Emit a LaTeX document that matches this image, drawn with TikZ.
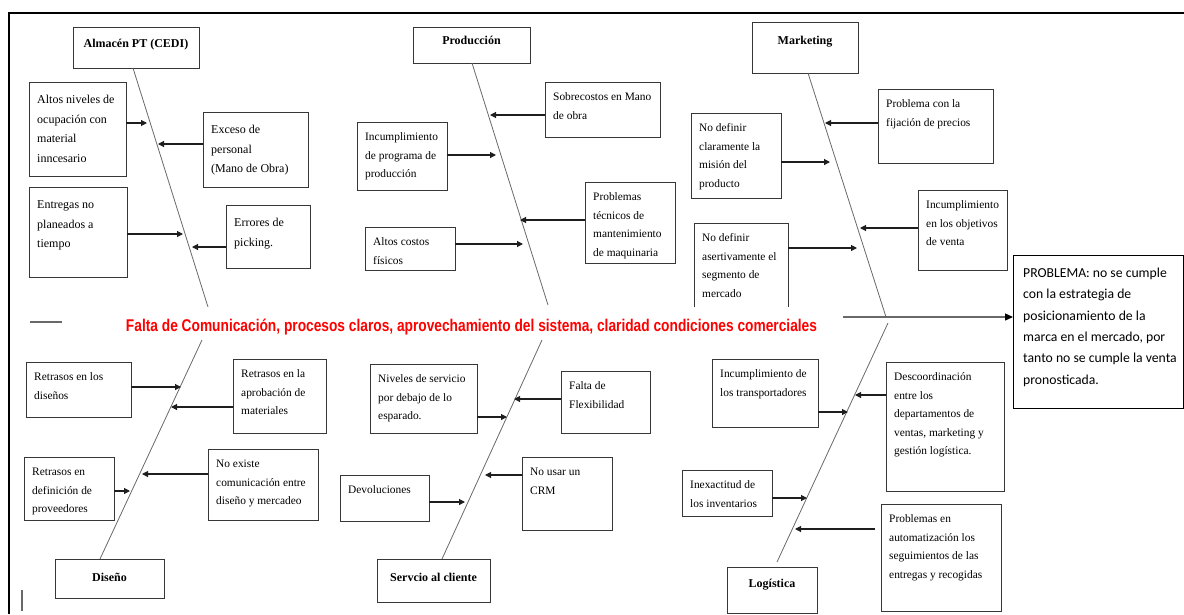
\documentclass[tikz,border=0pt]{standalone}
\usepackage{fontspec}
\setmainfont{Liberation Serif}
\newfontfamily\problemfont{Carlito}
\newfontfamily\headfont{Liberation Sans}
\usepackage{graphicx}
\usetikzlibrary{arrows.meta,calc}

\definecolor{boxline}{RGB}{55,55,55}
\definecolor{boneline}{RGB}{105,105,105}
\definecolor{arrowline}{RGB}{30,30,30}
\definecolor{headred}{RGB}{255,0,0}

\newcommand\causefont{\fontsize{11.4}{18.5}\selectfont}
\newcommand\almfont{\fontsize{12}{19.6}\selectfont}

\tikzset{
  causebox/.style={draw=boxline, line width=0.9pt, anchor=north west, inner sep=0pt, outer sep=0pt},
  causetext/.style={anchor=base west, inner sep=0pt},
  headtext/.style={anchor=base, inner sep=0pt, font=\fontsize{12}{14}\selectfont\bfseries},
  bone/.style={draw=boneline, line width=0.8pt},
  feeder/.style={draw=arrowline, line width=1.1pt, -{Triangle[length=6pt,width=6pt]}},
  spine/.style={draw=boneline, line width=1.4pt, -{Triangle[length=8pt,width=7pt,color=black]}},
}

% cause box: [first baseline offset], name, x1, y1, x2, y2, text (top-left aligned)
\newcommand\causenode[7][18.5]{%
  \node[causebox, minimum width={#5-#3}, minimum height={#6-#4}] (#2) at (#3,#4) {};
  \node[causetext] (#2-txt) at ([xshift=8pt,yshift=-#1pt]#2.north west)
    {\parbox[t]{150pt}{\causefont #7}};
}
% category box: name, x1, y1, x2, y2, baseline offset, text
\newcommand\headnode[7]{%
  \node[causebox, minimum width={#4-#2}, minimum height={#5-#3}] (#1) at (#2,#3) {};
  \node[headtext] (#1-txt) at ([yshift=-#6pt]#1.north) {#7};
}

\begin{document}
\begin{tikzpicture}[x=1pt,y=-1pt]
\useasboundingbox (0,0) rectangle (1184,614);

% outer frame (top and left edges)
\coordinate (fA) at (9,614);
\coordinate (fB) at (9,12.5);
\coordinate (fC) at (1184,12.5);
\draw[line width=2pt] (fA) -- (fB) -- (fC);
\coordinate (tickA) at (22,590);
\coordinate (tickB) at (22,611);
\draw[boneline, line width=1.2pt] (tickA) -- (tickB);

% ---------------- Almacén PT (CEDI)
\headnode{alm}{73}{27}{199}{68}{20}{Almacén PT (CEDI)}
\coordinate (b1s) at (133,68);
\coordinate (b1e) at (208,307);
\draw[bone] (b1s) -- (b1e);
\causenode[21.5]{a1}{29}{82}{126}{176}{\almfont Altos niveles de\\ocupación con\\material\\inncesario}
\causenode[21.5]{a2}{203}{112}{308}{187}{\almfont Exceso de\\personal\\(Mano de Obra)}
\causenode[21.5]{a3}{29}{187}{127}{277}{\almfont Entregas no\\planeados a\\tiempo}
\causenode[21.5]{a4}{226}{205}{310}{268}{\almfont Errores de\\picking.}
\coordinate (a1t) at (147,123);
\coordinate (a2t) at (158,144);
\coordinate (a3t) at (183,234);
\coordinate (a4t) at (192,247);
\draw[feeder] (a1.east |- a1t) -- (a1t);
\draw[feeder] (a2.west |- a2t) -- (a2t);
\draw[feeder] (a3.east |- a3t) -- (a3t);
\draw[feeder] (a4.west |- a4t) -- (a4t);

% ---------------- Producción
\headnode{prd}{413}{27}{530}{63}{17}{Producción}
\coordinate (b2s) at (472,63);
\coordinate (b2e) at (548,305);
\draw[bone] (b2s) -- (b2e);
\causenode{p1}{545}{82}{660}{137}{Sobrecostos en Mano\\de obra}
\causenode{p2}{357}{122}{447}{190}{Incumplimiento\\de programa de\\producción}
\causenode{p3}{585}{182}{675}{263}{Problemas\\técnicos de\\mantenimiento\\de maquinaria}
\causenode{p4}{365}{227}{455}{270}{Altos costos\\físicos}
\coordinate (p1t) at (490,115);
\coordinate (p2t) at (496,155);
\coordinate (p3t) at (520,220);
\coordinate (p4t) at (523,244);
\draw[feeder] (p1.west |- p1t) -- (p1t);
\draw[feeder] (p2.east |- p2t) -- (p2t);
\draw[feeder] (p3.west |- p3t) -- (p3t);
\draw[feeder] (p4.east |- p4t) -- (p4t);

% ---------------- Marketing
\headnode{mkt}{752}{22}{858}{73}{22}{Marketing}
\coordinate (b3s) at (808,73);
\coordinate (b3e) at (886,317);
\draw[bone] (b3s) -- (b3e);
\causenode{m1}{878}{89}{993}{163}{Problema con la\\fijación de precios}
\causenode{m2}{691}{113}{781}{198}{No definir\\claramente la\\misión del\\producto}
\causenode{m3}{918}{190}{1007}{270}{Incumplimiento\\en los objetivos\\de venta}
% this box runs under the central label: only three sides show
\node[causebox, draw=none, minimum width={788-694}, minimum height={307-223}] (m4) at (694,223) {};
\node[causetext] (m4-txt) at ([xshift=8pt,yshift=-18.5pt]m4.north west)
  {\parbox[t]{150pt}{\causefont No definir\\asertivamente el\\segmento de\\mercado}};
\draw[boxline, line width=0.9pt] (m4.south west) |- (m4.north east) -- (m4.south east);
\coordinate (m1t) at (825,123);
\coordinate (m2t) at (830,162);
\coordinate (m3t) at (860,228);
\coordinate (m4t) at (857,248);
\draw[feeder] (m1.west |- m1t) -- (m1t);
\draw[feeder] (m2.east |- m2t) -- (m2t);
\draw[feeder] (m3.west |- m3t) -- (m3t);
\draw[feeder] (m4.east |- m4t) -- (m4t);

% ---------------- central line and label
\coordinate (spL1) at (30,322);
\coordinate (spL2) at (62,322);
\draw[boneline, line width=1.4pt] (spL1) -- (spL2);
\node[anchor=base, inner sep=0pt, text=headred] (root) at (471.5,331)
  {\resizebox{691pt}{\height}{\headfont\bfseries\fontsize{17}{20}\selectfont Falta de Comunicación, procesos claros, aprovechamiento del sistema, claridad condiciones comerciales}};

% ---------------- problem statement
\node[draw=black, line width=1.2pt, anchor=north west, inner sep=0pt,
      minimum width=170pt, minimum height=153pt] (prob) at (1013,255) {};
\node[causetext] (prob-txt) at ([xshift=10pt,yshift=-22.5pt]prob.north west)
  {\parbox[t]{165pt}{\problemfont\fontsize{13.7}{21.3}\selectfont PROBLEMA: no se cumple\\con la estrategia de\\posicionamiento de la\\marca en el mercado, por\\tanto no se cumple la venta\\pronosticada.}};
\coordinate (spR) at (843,317);
\draw[spine] (spR) -- (prob.west |- spR);

% ---------------- Diseño
\headnode{dis}{55}{559}{164}{598}{22}{Diseño}
\coordinate (b4s) at (202,340);
\coordinate (b4e) at (100,559);
\draw[bone] (b4s) -- (b4e);
\causenode{d1}{26}{362}{131}{417}{Retrasos en los\\diseños}
\causenode{d2}{233}{359}{326}{433}{Retrasos en la\\aprobación de\\materiales}
\causenode{d3}{24}{457}{114}{520}{Retrasos en\\definición de\\proveedores}
\causenode{d4}{208}{449}{318}{520}{No existe\\comunicación entre\\diseño y mercadeo}
\coordinate (d1t) at (181,387);
\coordinate (d2t) at (171,407);
\coordinate (d3t) at (130,491);
\coordinate (d4t) at (142,474);
\draw[feeder] (d1.east |- d1t) -- (d1t);
\draw[feeder] (d2.west |- d2t) -- (d2t);
\draw[feeder] (d3.east |- d3t) -- (d3t);
\draw[feeder] (d4.west |- d4t) -- (d4t);

% ---------------- Servicio al cliente
\headnode{srv}{377}{559}{490}{602}{22}{Servcio al cliente}
\coordinate (b5s) at (542,340);
\coordinate (b5e) at (442,559);
\draw[bone] (b5s) -- (b5e);
\causenode{s1}{370}{364}{477}{433}{Niveles de servicio\\por debajo de lo\\esparado.}
\causenode{s2}{561}{371}{650}{433}{Falta de\\Flexibilidad}
\causenode{s3}{340}{475}{429}{521}{Devoluciones}
\causenode{s4}{522}{457}{612}{530}{No usar un\\CRM}
\coordinate (s1t) at (507,417);
\coordinate (s2t) at (514,399);
\coordinate (s3t) at (465,502);
\coordinate (s4t) at (485,475);
\draw[feeder] (s1.east |- s1t) -- (s1t);
\draw[feeder] (s2.west |- s2t) -- (s2t);
\draw[feeder] (s3.east |- s3t) -- (s3t);
\draw[feeder] (s4.west |- s4t) -- (s4t);

% ---------------- Logística
\headnode{log}{727}{567}{817}{613}{20}{Logística}
\coordinate (b6s) at (888,323);
\coordinate (b6e) at (777,562);
\draw[bone] (b6s) -- (b6e);
\causenode{l1}{712}{359}{818}{427}{Incumplimiento de\\los transportadores}
\causenode{l2}{886}{362}{1004}{491}{Descoordinación\\entre los\\departamentos de\\ventas, marketing y\\gestión logística.}
\causenode{l3}{682}{470}{772}{516}{Inexactitud de\\los inventarios}
\causenode{l4}{881}{504}{1001}{611}{Problemas en\\automatización los\\seguimientos de las\\entregas y recogidas}
\coordinate (l1t) at (848,412);
\coordinate (l2t) at (855,395);
\coordinate (l3t) at (807,498);
\coordinate (l4t) at (795,529);
\draw[feeder] (l1.east |- l1t) -- (l1t);
\draw[feeder] (l2.west |- l2t) -- (l2t);
\draw[feeder] (l3.east |- l3t) -- (l3t);
\draw[feeder] ([xshift=-6pt]l4.west |- l4t) -- (l4t);
\end{tikzpicture}
\end{document}
